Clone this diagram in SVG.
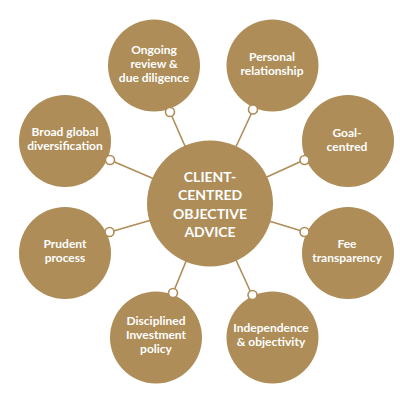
<svg xmlns="http://www.w3.org/2000/svg" width="400" height="400" viewBox="0 0 400 400">
<style>
.n{fill:#AE8D58}
.t{fill:#fff;font-family:Lato,"Open Sans",sans-serif;font-weight:bold;font-size:12px;text-anchor:middle}
.c{font-size:14px}
.k{stroke:#AE8D58;stroke-width:1.6;fill:none}
.d{fill:#fff;stroke:#AE8D58;stroke-width:1.6}
</style>
<rect width="400" height="400" fill="#fff"/>
<g id="connectors">
<line class="k" x1="170" y1="112" x2="210" y2="203"/>
<line class="k" x1="110" y1="160" x2="210" y2="203"/>
<line class="k" x1="253" y1="110" x2="210" y2="203"/>
<line class="k" x1="304" y1="160" x2="210" y2="203"/>
<line class="k" x1="110" y1="232" x2="210" y2="203"/>
<line class="k" x1="173" y1="293" x2="210" y2="203"/>
<line class="k" x1="305" y1="232" x2="210" y2="203"/>
<line class="k" x1="252" y1="295" x2="210" y2="203"/>
</g>
<g id="center">
<circle class="n" cx="210" cy="203.5" r="63"/>
<text class="t c" x="210" y="182">CLIENT-</text>
<text class="t c" x="210" y="200">CENTRED</text>
<text class="t c" x="210" y="219">OBJECTIVE</text>
<text class="t c" x="210" y="237">ADVICE</text>
</g>
<g id="ongoing">
<circle class="n" cx="154" cy="65.5" r="46"/>
<text class="t" x="154" y="54">Ongoing</text>
<text class="t" x="154" y="68">review &amp;</text>
<text class="t" x="154" y="82">due diligence</text>
<circle class="d" cx="170" cy="112" r="4.5"/>
</g>
<g id="broad">
<circle class="n" cx="65" cy="141" r="46"/>
<text class="t" x="65" y="136">Broad global</text>
<text class="t" x="65" y="150">diversification</text>
<circle class="d" cx="110" cy="160" r="4.5"/>
</g>
<g id="personal">
<circle class="n" cx="272.5" cy="65.5" r="46"/>
<text class="t" x="272" y="61">Personal</text>
<text class="t" x="272" y="75">relationship</text>
<circle class="d" cx="253" cy="109.5" r="4.5"/>
</g>
<g id="goal">
<circle class="n" cx="348" cy="141" r="46"/>
<text class="t" x="347" y="136.5">Goal-</text>
<text class="t" x="347" y="150.5">centred</text>
<circle class="d" cx="304.5" cy="160" r="4.5"/>
</g>
<g id="prudent">
<circle class="n" cx="65" cy="253" r="46"/>
<text class="t" x="65" y="248">Prudent</text>
<text class="t" x="65" y="262">process</text>
<circle class="d" cx="109.5" cy="232" r="4.5"/>
</g>
<g id="disciplined">
<circle class="n" cx="156" cy="337.5" r="46"/>
<text class="t" x="156" y="325">Disciplined</text>
<text class="t" x="156" y="339">Investment</text>
<text class="t" x="156" y="353">policy</text>
<circle class="d" cx="173" cy="293" r="4.5"/>
</g>
<g id="fee">
<circle class="n" cx="348" cy="253" r="46"/>
<text class="t" x="347" y="248">Fee</text>
<text class="t" x="347" y="262">transparency</text>
<circle class="d" cx="304.5" cy="232" r="4.5"/>
</g>
<g id="independence">
<circle class="n" cx="272.5" cy="337.5" r="46"/>
<text class="t" x="271" y="332">Independence</text>
<text class="t" x="271" y="346">&amp; objectivity</text>
<circle class="d" cx="252.5" cy="295" r="4.5"/>
</g>
</svg>
